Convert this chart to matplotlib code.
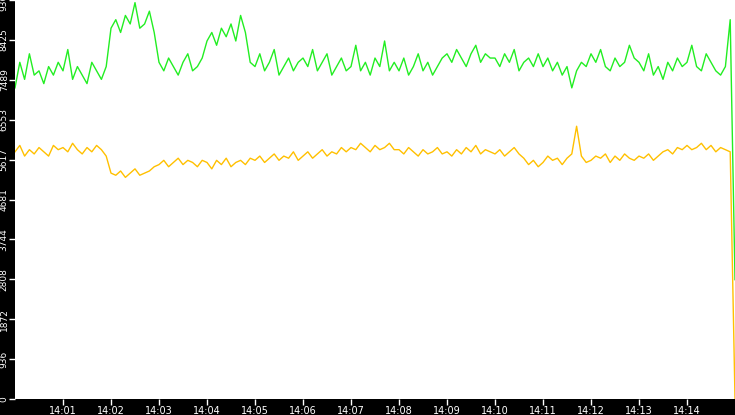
import matplotlib
matplotlib.use("Agg")
import matplotlib.pyplot as plt
import numpy as np

green = [7300,7900,7500,8100,7600,7700,7400,7800,7600,7900,
 7700,8200,7500,7800,7600,7400,7900,7700,7500,7800,
 8700,8900,8600,9000,8800,9300,8700,8800,9100,8600,
 7900,7700,8000,7800,7600,7900,8100,7700,7800,8000,
 8400,8600,8300,8700,8500,8800,8400,9000,8600,7900,
 7800,8100,7700,7900,8200,7600,7800,8000,7700,7900,
 8000,7800,8200,7700,7900,8100,7600,7800,8000,7700,
 7800,8300,7700,7900,7600,8000,7800,8400,7700,7900,
 7700,8000,7600,7800,8100,7700,7900,7600,7800,8000,
 8100,7900,8200,8000,7800,8100,8300,7900,8100,8000,
 8000,7800,8100,7900,8200,7700,7900,8000,7800,8100,
 7800,8000,7700,7900,7600,7800,7300,7700,7900,7800,
 8100,7900,8200,7800,7700,8000,7800,7900,8300,8000,
 7900,7700,8100,7600,7800,7500,7900,7700,8000,7800,
 7900,8300,7800,7700,8100,7900,7700,7600,7800,8900,2800]
yellow = [5800,5950,5700,5850,5750,5900,5800,5700,5950,5850,
 5900,5800,6000,5850,5750,5900,5800,5950,5850,5700,
 5300,5250,5350,5200,5300,5400,5250,5300,5350,5450,
 5500,5600,5450,5550,5650,5500,5600,5550,5450,5600,
 5550,5400,5600,5500,5650,5450,5550,5600,5500,5650,
 5600,5700,5550,5650,5750,5600,5700,5650,5800,5600,
 5700,5800,5650,5750,5850,5700,5800,5750,5900,5800,
 5900,5850,6000,5900,5800,5950,5850,5900,6000,5850,
 5850,5750,5900,5800,5700,5850,5750,5800,5900,5750,
 5800,5700,5850,5750,5900,5800,5950,5750,5850,5800,
 5750,5850,5700,5800,5900,5750,5650,5500,5600,5450,
 5550,5700,5600,5650,5500,5650,5750,6400,5700,5550,
 5600,5700,5650,5750,5550,5700,5600,5750,5650,5600,
 5700,5650,5750,5600,5700,5800,5850,5750,5900,5850,
 5950,5850,5900,6000,5850,5950,5800,5900,5850,5800,0]
yticks = [0, 936, 1872, 2808, 3744, 4681, 5617, 6553, 7489, 8425, 9362]
xtick_labels = ["14:%02d" % m for m in range(1, 15)]

t = np.arange(len(green)) * 0.1  # minutes after 14:00

fig = plt.figure(figsize=(7.35, 4.15), dpi=100, facecolor="black")
ax = fig.add_axes([15/735, 16/415, 720/735, 399/415])
ax.set_facecolor("white")
ax.plot(t, green, color="#22ee22", lw=1)
ax.plot(t, yellow, color="#ffc000", lw=1)
ax.set_xlim(0, 15)
ax.set_ylim(0, 9362)
ax.set_yticks(yticks)
ax.set_yticklabels([str(v) for v in yticks], rotation=90, va="center")
ax.set_xticks(range(1, 15))
ax.set_xticklabels(xtick_labels)
ax.tick_params(colors="white", labelsize=7, length=4, width=1)
ax.tick_params(axis="y", labelsize=6.5, pad=0.5, length=4)
ax.tick_params(axis="x", pad=1)
for s in ax.spines.values():
    s.set_visible(False)
fig.savefig("out.png", facecolor="black")
